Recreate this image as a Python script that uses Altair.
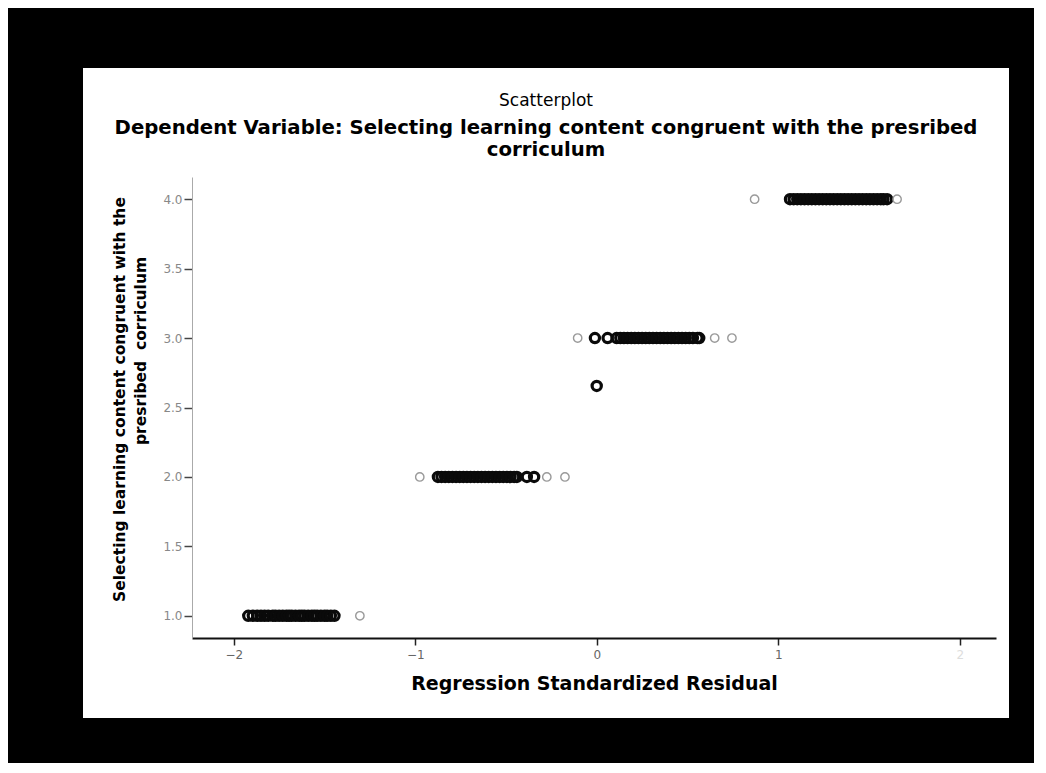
import altair as alt
import pandas as pd

# ---- data (x = regression standardized residual) ----
y_levels = [1.0, 2.0, 2.655, 3.0, 4.0]

resid_at_1 = [-1.92, -1.895, -1.87, -1.85, -1.83, -1.81, -1.785, -1.77, -1.75,
              -1.73, -1.71, -1.695, -1.68, -1.66, -1.64, -1.625, -1.61, -1.59,
              -1.57, -1.555, -1.54, -1.52, -1.50, -1.485, -1.465, -1.445]
resid_at_1_faint = [-1.305]

resid_at_2 = [-0.875, -0.855, -0.835, -0.815, -0.795, -0.775, -0.755, -0.735,
              -0.715, -0.695, -0.675, -0.655, -0.635, -0.615, -0.595, -0.575,
              -0.555, -0.535, -0.515, -0.495, -0.475, -0.455, -0.44, -0.385,
              -0.345]
resid_at_2_faint = [-0.975, -0.275, -0.175]

resid_at_265 = [0.0]
resid_at_265_faint = []

resid_at_3 = [-0.01, 0.06, 0.11, 0.13, 0.15, 0.17, 0.19, 0.21, 0.23, 0.25, 0.27,
              0.29, 0.31, 0.33, 0.35, 0.37, 0.39, 0.41, 0.43, 0.45, 0.47, 0.49,
              0.51, 0.53, 0.555, 0.565]
resid_at_3_faint = [-0.105, 0.65, 0.745]

resid_at_4 = [1.065, 1.085, 1.105, 1.125, 1.145, 1.165, 1.185, 1.205, 1.225,
              1.245, 1.265, 1.285, 1.305, 1.325, 1.345, 1.365, 1.385, 1.405,
              1.425, 1.445, 1.465, 1.485, 1.505, 1.525, 1.545, 1.565, 1.58, 1.60]
resid_at_4_faint = [0.87, 1.655]

x_ticks = [-2, -1, 0, 1, 2]
y_ticks = [1.0, 1.5, 2.0, 2.5, 3.0, 3.5, 4.0]

core_lists = [resid_at_1, resid_at_2, resid_at_265, resid_at_3, resid_at_4]
faint_lists = [resid_at_1_faint, resid_at_2_faint, resid_at_265_faint,
               resid_at_3_faint, resid_at_4_faint]

core_rows = [{"resid": x, "value": y} for y, xs in zip(y_levels, core_lists) for x in xs]
faint_rows = [{"resid": x, "value": y} for y, xs in zip(y_levels, faint_lists) for x in xs]
core_df = pd.DataFrame(core_rows)
faint_df = pd.DataFrame(faint_rows)

# second y-title line sits higher than the first in the reference:
# a zero-width lead keeps the no-break spaces from being trimmed
y_title_lines = ["Selecting learning content congruent with the",
                 "\u200b" + "\u00a0" * 18 + "presribed\u00a0\u00a0corriculum"]

x_enc = alt.X(
    "resid:Q",
    scale=alt.Scale(domain=[-2.23, 2.2], nice=False, zero=False),
    axis=alt.Axis(
        values=x_ticks, format="d", grid=False, zindex=1,
        domainColor="#111", domainWidth=2,
        tickColor="#222", tickSize=7, tickWidth=1.5,
        labelFont="DejaVu Sans", labelFontSize=12, labelPadding=4,
        labelColor=alt.condition("datum.value == 2", alt.value("#dddddd"), alt.value("#666666")),
        title="Regression Standardized Residual",
        titleFont="DejaVu Sans", titleFontSize=19, titleFontWeight="bold",
        titleColor="black", titlePadding=14,
    ),
)
y_enc = alt.Y(
    "value:Q",
    scale=alt.Scale(domain=[0.84, 4.16], nice=False, zero=False),
    axis=alt.Axis(
        values=y_ticks, format=".1f", grid=False, zindex=1,
        domainColor="#aaaaaa", domainWidth=1,
        tickColor="#444", tickSize=8, tickWidth=1.5,
        labelFont="DejaVu Sans", labelFontSize=12, labelPadding=2,
        labelColor="#888888",
        title=y_title_lines, titleY=222,
        titleFont="DejaVu Sans", titleFontSize=15.5, titleFontWeight="bold",
        titleColor="black", titlePadding=14, titleLineHeight=21,
    ),
)

panel = alt.Chart(alt.Data(values=[{}])).mark_rect(color="white").encode(
    x=alt.value(-109), x2=alt.value(817), y=alt.value(-109), y2=alt.value(541)
)

core = alt.Chart(core_df).mark_point(
    shape="circle", filled=False, size=85, strokeWidth=3.2, color="#0a0a0a", opacity=1
).encode(x=x_enc, y=y_enc)

faint = alt.Chart(faint_df).mark_point(
    shape="circle", filled=False, size=70, strokeWidth=1.4, color="#9a9a9a", opacity=1
).encode(x=x_enc, y=y_enc)

chart = alt.layer(panel, core, faint).properties(
    width=804,
    height=461,
    padding={"left": 75, "top": 60, "right": 25, "bottom": 45},
    title=alt.TitleParams(
        text="Scatterplot",
        subtitle=["Dependent Variable: Selecting learning content congruent with the presribed",
                  "corriculum"],
        anchor="middle", frame="bounds", offset=-93, zindex=1,
        font="DejaVu Sans", fontSize=17, fontWeight="normal", color="black",
        subtitleFont="DejaVu Sans", subtitleFontSize=19.7, subtitleFontWeight="bold",
        subtitleColor="black", subtitleLineHeight=22, subtitlePadding=8,
    ),
).configure(background="black").configure_view(stroke=None)

chart.save("out.html", embed_options={"renderer": "svg", "actions": False})
